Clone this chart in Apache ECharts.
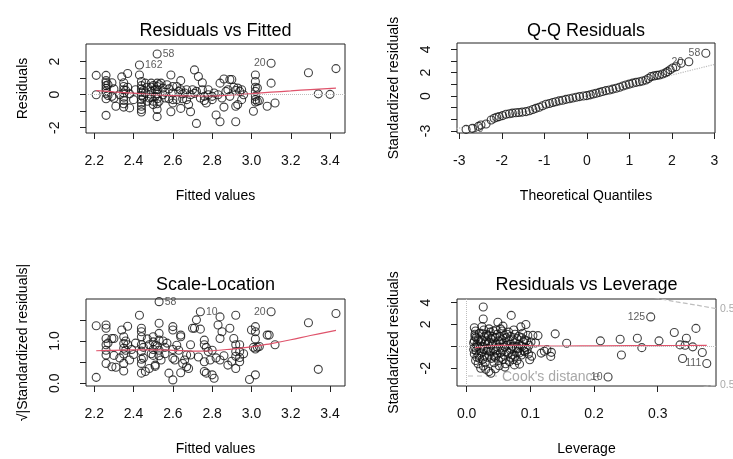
<!DOCTYPE html>
<html><head><meta charset="utf-8">
<script src="https://cdn.jsdelivr.net/npm/echarts@6/dist/echarts.min.js"></script>
<style>html,body{margin:0;padding:0;background:#fff}#c{width:733px;height:459px}</style>
</head><body><div id="c"></div>
<script>
// ---------- Panel 1: Residuals vs Fitted ----------
const residFitted = [
[2.21,1.17],[2.21,0.0],
[2.26,1.17],[2.26,0.85],[2.26,0.72],[2.26,0.55],[2.26,0.38],[2.26,0.22],[2.26,0.08],[2.26,-0.25],[2.26,-1.25],[2.27,0.6],[2.27,-0.05],
[2.29,0.72],[2.29,-0.1],[2.30,-0.22],[2.31,-0.7],[2.30,0.35],[2.33,0.0],
[2.34,1.08],[2.35,0.72],[2.35,0.5],[2.35,0.3],[2.35,0.1],[2.35,-0.15],[2.35,-0.35],[2.35,-0.55],[2.35,-0.75],[2.36,0.25],
[2.37,1.28],[2.37,0.45],[2.38,0.05],[2.38,-0.8],[2.40,-0.3],[2.41,0.3],
[2.43,1.19],[2.44,0.8],[2.44,0.55],[2.44,0.35],[2.44,0.15],[2.44,-0.05],[2.44,-0.3],[2.44,-0.5],[2.44,-0.7],[2.44,-0.9],[2.44,-1.05],
[2.45,0.25],[2.45,-0.15],[2.46,0.7],[2.46,0.1],[2.47,-0.4],[2.47,0.45],[2.48,-0.2],
[2.49,0.7],[2.49,0.45],[2.49,0.2],[2.49,-0.15],[2.50,-0.4],[2.50,-0.6],[2.50,0.55],[2.51,0.3],[2.51,-0.1],
[2.52,0.7],[2.52,0.5],[2.52,0.3],[2.52,0.05],[2.52,-0.25],[2.52,-0.55],[2.52,-0.9],[2.52,-1.33],[2.53,0.6],[2.53,-0.4],
[2.54,0.7],[2.55,0.4],[2.55,0.0],[2.56,0.15],[2.57,0.6],[2.56,-0.2],[2.58,0.35],[2.58,-0.25],
[2.59,1.19],[2.60,0.5],[2.60,0.1],[2.60,-0.3],[2.60,-0.5],[2.59,-1.03],
[2.62,-0.3],[2.63,0.2],[2.62,0.5],
[2.64,0.85],[2.64,0.3],[2.65,0.05],[2.65,-0.25],[2.64,-0.83],[2.66,0.1],
[2.67,0.3],[2.67,-0.3],[2.68,-0.6],[2.69,-1.03],[2.70,0.3],[2.69,0.0],
[2.71,1.5],[2.71,0.08],[2.73,1.1],[2.75,0.72],[2.72,-1.74],[2.72,0.2],[2.74,-0.2],
[2.75,0.3],[2.76,-0.1],[2.76,-0.35],[2.77,-0.5],[2.78,0.0],[2.78,0.3],
[2.80,-0.1],[2.81,0.1],[2.80,-0.3],[2.82,-1.23],[2.84,-1.64],[2.83,0.0],[2.84,0.7],[2.85,-0.2],
[2.86,0.95],[2.86,-0.75],[2.87,0.2],[2.88,0.3],
[2.89,0.92],[2.90,0.92],[2.89,-0.1],[2.91,0.45],[2.92,0.25],[2.92,-0.7],[2.92,-1.64],[2.93,0.4],[2.93,-0.6],[2.94,0.2],[2.95,0.3],[2.95,-0.3],[2.96,0.0],
[3.02,1.19],[3.02,0.8],[3.02,0.45],[3.02,0.2],[3.02,-0.1],[3.02,-0.3],[3.02,-0.45],[3.01,-1.0],[3.03,0.4],[3.03,-0.4],[3.04,-0.35],
[3.08,-0.7],[3.10,0.7],[3.12,-0.5],
[3.29,1.33],[3.34,0.05],[3.40,0.02],[3.43,1.58]
];
const smoothFitted = [[2.21,0.25],[2.30,0.17],[2.40,0.09],[2.50,0.0],[2.60,-0.06],[2.70,-0.08],[2.80,-0.08],[2.90,-0.02],[3.00,0.06],[3.10,0.15],[3.20,0.23],[3.30,0.31],[3.43,0.40]];
const idFitted = [["58",2.52,2.46,"right"],["162",2.43,1.80,"right"],["20",3.10,1.90,"left"]];
const fittedTicks = [2.2,2.4,2.6,2.8,3.0,3.2,3.4];
const residTicks = [-2,-1,0,1,2];
const residLabels = [-2,0,2];

// ---------- Panel 2: Q-Q Residuals ----------
const qqPoints = [
[-2.69,-2.77],[-2.55,-2.60],[-2.49,-2.49],[-2.37,-2.40],[-2.25,-2.05],[-2.18,-1.91],[-2.12,-1.82],[-2.06,-1.77],[-1.98,-1.68],[-1.90,-1.57],
[-1.82,-1.52],[-1.75,-1.47],[-1.67,-1.43],[-1.60,-1.41],[-1.52,-1.38],[-1.43,-1.34],[-1.35,-1.27],[-1.27,-1.16],[-1.20,-1.06],[-1.12,-0.96],
[-1.04,-0.83],[-0.96,-0.71],[-0.88,-0.64],[-0.80,-0.56],[-0.73,-0.49],[-0.65,-0.42],[-0.57,-0.36],[-0.49,-0.29],[-0.41,-0.23],[-0.33,-0.17],
[-0.25,-0.11],[-0.17,-0.05],[-0.08,0.0],[0.0,0.03],[0.08,0.10],[0.15,0.17],[0.22,0.23],[0.30,0.31],[0.37,0.38],[0.45,0.46],
[0.53,0.52],[0.61,0.59],[0.69,0.66],[0.77,0.75],[0.85,0.85],[0.92,0.94],[1.00,1.02],[1.08,1.10],[1.16,1.17],[1.24,1.22],
[1.31,1.28],[1.39,1.37],[1.45,1.50],[1.51,1.66],[1.58,1.72],[1.65,1.77],[1.71,1.80],[1.78,1.88],[1.85,1.98],[1.90,2.09],
[1.96,2.25],[2.02,2.40],[2.10,2.51],[2.22,2.80]
];
const qqLine = [[-3.06,-2.80],[3.02,2.72]];
const idQQ = [["58",2.80,3.66,"left"],["20",2.40,2.94,"left"],["10",-2.84,-2.86,"right"]];
const qqXTicks = [-3,-2,-1,0,1,2,3];
const qqYTicks = [-3,-2,-1,0,1,2,3,4];
const qqYLabels = [-3,0,2,4];

// ---------- Panel 3: Scale-Location ----------
const scaleLoc = [
[2.21,1.36],[2.21,0.14],
[2.26,1.38],[2.26,1.30],[2.26,1.06],[2.26,0.91],[2.26,0.78],[2.26,0.67],[2.26,0.47],[2.27,0.95],
[2.29,1.06],[2.29,0.39],[2.30,1.06],[2.31,0.38],[2.30,0.66],[2.33,0.60],
[2.34,1.26],[2.35,1.10],[2.35,0.94],[2.35,0.83],[2.35,0.69],[2.35,0.47],[2.35,0.29],[2.36,0.78],[2.36,1.00],
[2.37,1.35],[2.37,0.91],[2.38,0.55],[2.39,0.80],[2.40,0.68],[2.41,0.95],
[2.43,1.61],[2.44,1.30],[2.44,1.22],[2.44,1.10],[2.44,0.91],[2.44,0.76],[2.44,0.57],[2.44,0.47],[2.44,0.24],[2.46,0.28],[2.45,0.85],[2.45,0.60],
[2.47,1.05],[2.48,0.91],[2.48,0.35],[2.49,0.70],[2.50,1.10],[2.50,0.98],[2.50,0.66],[2.51,0.43],[2.51,0.40],[2.50,0.80],[2.51,0.90],
[2.53,1.42],[2.53,1.18],[2.53,1.02],[2.53,0.78],[2.53,0.65],[2.52,0.88],[2.54,0.55],
[2.55,1.00],[2.56,0.85],[2.56,0.70],[2.57,0.95],[2.58,0.24],[2.60,0.08],[2.60,1.34],[2.60,1.26],[2.60,0.80],[2.60,0.59],[2.61,0.55],[2.62,0.90],
[2.64,1.14],[2.64,1.10],[2.65,0.47],[2.64,0.25],[2.63,0.78],[2.66,0.55],
[2.67,0.39],[2.67,0.67],[2.69,0.91],[2.69,0.67],[2.70,1.30],[2.71,1.30],[2.68,0.35],
[2.72,1.50],[2.73,0.62],[2.74,1.28],[2.76,1.02],[2.76,0.91],[2.76,0.51],[2.76,0.28],[2.77,0.24],[2.77,0.85],[2.78,0.75],[2.80,0.20],[2.81,0.12],[2.79,0.55],[2.80,0.78],
[2.83,1.38],[2.84,1.57],[2.84,1.06],[2.84,0.55],[2.85,1.22],[2.82,0.60],[2.86,0.65],
[2.88,0.43],[2.89,1.30],[2.91,1.06],[2.92,1.61],[2.92,0.91],[2.92,0.75],[2.92,0.64],[2.92,0.35],[2.90,0.52],
[2.94,0.91],[2.94,0.75],[2.94,0.61],[2.94,0.51],[2.96,0.70],
[2.99,0.09],[3.00,1.26],[3.02,1.34],[3.02,1.22],[3.01,0.85],[3.02,0.81],[3.03,0.85],[3.04,0.87],[3.02,0.20],[3.02,1.05],
[3.08,1.14],[3.09,1.14],[3.12,0.91],
[3.29,1.43],[3.34,0.33],[3.43,1.65]
];
const smoothScale = [[2.21,0.77],[2.30,0.78],[2.40,0.79],[2.50,0.79],[2.60,0.78],[2.70,0.76],[2.80,0.77],[2.90,0.81],[3.00,0.86],[3.10,0.94],[3.20,1.03],[3.30,1.13],[3.43,1.25]];
const idScale = [["58",2.53,1.93,"right"],["10",2.74,1.69,"right"],["20",3.10,1.69,"left"]];
const scaleTicks = [0,0.5,1,1.5];
const scaleLabels = [0,1];

// ---------- Panel 4: Residuals vs Leverage ----------
const leverage = [
[0.012,1.7],[0.014,1.4],[0.013,1.1],[0.015,0.8],[0.012,0.5],[0.016,0.2],[0.013,-0.1],[0.015,-0.4],[0.012,-0.7],[0.016,-1.0],[0.014,-1.3],[0.018,-1.6],
[0.011,0.3],[0.011,-0.3],[0.013,0.9],[0.017,0.0],[0.018,0.6],[0.019,-0.8],[0.020,1.2],[0.021,-0.2],[0.022,0.4],[0.020,-1.1],[0.022,-2.0],
[0.026,3.6],[0.026,2.5],[0.024,1.8],[0.027,1.5],[0.023,1.2],[0.028,0.9],[0.024,0.6],[0.029,0.3],[0.025,0.0],[0.027,-0.3],[0.023,-0.6],[0.028,-0.9],[0.025,-1.2],[0.029,-1.5],[0.026,-1.8],
[0.031,0.5],[0.032,-0.4],[0.031,1.1],[0.032,-1.0],[0.033,0.2],[0.030,-2.1],
[0.035,1.6],[0.037,1.3],[0.034,1.0],[0.038,0.7],[0.036,0.4],[0.039,0.1],[0.034,-0.2],[0.037,-0.5],[0.035,-0.8],[0.039,-1.1],[0.035,-2.3],[0.038,-2.46],
[0.041,0.9],[0.042,-0.3],[0.041,0.3],[0.043,-0.9],[0.042,1.4],[0.043,-1.5],
[0.049,2.2],[0.046,1.5],[0.048,1.1],[0.045,0.8],[0.050,0.5],[0.047,0.2],[0.049,-0.1],[0.046,-0.4],[0.048,-0.7],[0.045,-1.0],[0.050,-1.3],[0.051,-1.78],[0.045,-2.05],
[0.052,0.3],[0.053,-0.6],[0.052,0.9],[0.053,1.6],[0.054,-1.0],
[0.057,1.85],[0.056,1.4],[0.059,1.0],[0.055,0.6],[0.058,0.3],[0.060,-0.05],[0.056,-0.4],[0.059,-0.8],[0.057,-1.2],[0.060,-1.9],
[0.062,0.1],[0.063,-0.5],[0.062,0.8],[0.063,1.1],[0.061,-1.6],
[0.070,2.83],[0.066,1.3],[0.069,0.9],[0.065,0.5],[0.068,0.2],[0.070,-0.2],[0.066,-0.6],[0.069,-1.0],[0.067,-1.4],
[0.072,0.0],[0.073,0.6],[0.072,-0.8],[0.074,1.5],[0.073,-1.2],[0.075,-1.7],
[0.076,1.1],[0.079,0.7],[0.075,0.3],[0.078,-0.1],[0.080,-0.5],[0.076,-0.9],[0.079,-1.3],
[0.082,0.2],[0.081,-0.2],[0.082,0.9],[0.083,-0.6],
[0.085,1.78],[0.088,1.2],[0.086,0.8],[0.089,0.4],[0.087,0.0],[0.090,-0.4],[0.086,-0.8],[0.083,-1.63],
[0.091,0.6],[0.092,-0.1],[0.091,-0.5],
[0.093,2.0],[0.096,1.0],[0.094,0.5],[0.098,0.1],[0.095,-0.3],[0.097,-0.7],[0.099,-1.23],
[0.101,0.4],[0.102,-0.9],[0.104,1.0],
[0.112,0.98],[0.117,-0.62],[0.126,-0.3],[0.132,-0.92],[0.133,-0.55],[0.139,1.14],[0.122,-0.45],[0.108,0.3],
[0.157,0.28],
[0.210,0.50],[0.241,0.65],[0.243,-0.8],[0.268,0.74],[0.275,-0.12],[0.302,0.5],[0.326,1.27],[0.335,0.13],[0.339,-1.11],[0.345,0.74],[0.343,0.1],[0.355,-0.05],[0.360,1.64],[0.370,-0.56]
];
const smoothLev = [[0.013,-0.12],[0.03,0.0],[0.05,0.08],[0.08,0.10],[0.11,0.05],[0.15,0.03],[0.21,0.05],[0.30,0.07],[0.377,0.08]];
const idLev = [["125",0.289,2.69,"left"],["111",0.377,-1.57,"left"],["10",0.222,-2.81,"left"]];
const cookUpper = [[0.295,4.45],[0.33,4.06],[0.36,3.78],[0.392,3.45]];
const cookLower = [[0.372,-3.70],[0.392,-3.55]];
const levXTicks = [0,0.1,0.2,0.3];
const levYTicks = [-2,0,2,4];
const levYLabels = [-2,2,4];

const F = '"Liberation Sans", Arial, Helvetica, sans-serif';
const chart = echarts.init(document.getElementById('c'), null, {renderer:'canvas'});

function fmt(dec){ return v => (dec ? Number(v).toFixed(dec) : String(v)); }
function xAx(gi,min,max,ticks,labels,name,dec){
  return {type:'value',gridIndex:gi,min:min,max:max,name:name,nameLocation:'middle',nameGap:56,
    nameTextStyle:{fontSize:14,color:'#000',fontFamily:F},
    axisLine:{show:false,onZero:false},splitLine:{show:false},
    axisTick:{show:true,length:6,inside:false,customValues:ticks,lineStyle:{color:'#222',width:1}},
    axisLabel:{customValues:labels,fontSize:14,color:'#111',fontFamily:F,margin:21,formatter:fmt(dec)}};
}
function yAx(gi,min,max,ticks,labels,name,dec){
  return {type:'value',gridIndex:gi,min:min,max:max,name:name,nameLocation:'middle',nameGap:56,
    nameTextStyle:{fontSize:14,color:'#000',fontFamily:F},
    axisLine:{show:false,onZero:false},splitLine:{show:false},
    axisTick:{show:true,length:6,inside:false,customValues:ticks,lineStyle:{color:'#222',width:1}},
    axisLabel:{customValues:labels,fontSize:14,color:'#111',fontFamily:F,margin:24,rotate:90,formatter:fmt(dec)}};
}
const pointStyle = {symbol:'circle',symbolSize:8,itemStyle:{color:'rgba(0,0,0,0)',borderColor:'#111',borderWidth:1.1}};
function pts(i,data,extra){ return Object.assign({type:'scatter',xAxisIndex:i,yAxisIndex:i,data:data,silent:true,z:3},pointStyle,extra||{}); }
function redLine(i,data){ return {type:'line',xAxisIndex:i,yAxisIndex:i,data:data,showSymbol:false,smooth:0.4,silent:true,z:4,lineStyle:{color:'#DF536B',width:1.2}}; }
function idSeries(i,ids){
  return {type:'scatter',xAxisIndex:i,yAxisIndex:i,silent:true,z:5,symbol:'circle',symbolSize:8,
    itemStyle:{color:'rgba(0,0,0,0)',borderColor:'#111',borderWidth:1.1},
    data:ids.map(d=>({value:[d[1],d[2]],label:{show:true,position:d[3],distance:1,formatter:d[0]}})),
    label:{show:true,fontSize:10.5,color:'#333',fontFamily:F}};
}
const dotted = {silent:true,symbol:'none',label:{show:false},lineStyle:{color:'#BEBEBE',type:'dotted',width:1}};

const grids = [
  {left:86,top:44,width:259,height:89},
  {left:457,top:43,width:258,height:90},
  {left:86,top:299,width:259,height:87},
  {left:457,top:299,width:259,height:87}
].map(g=>Object.assign(g,{show:true,borderColor:'#222',borderWidth:1,backgroundColor:'transparent'}));

const titles = [["Residuals vs Fitted",215.5,31.5],["Q-Q Residuals",586,31.5],["Scale-Location",215.5,285],["Residuals vs Leverage",586.5,285]];

chart.setOption({
  animation:false,
  backgroundColor:'#fff',
  textStyle:{fontFamily:F},
  grid:grids,
  xAxis:[
    xAx(0,2.158,3.476,fittedTicks,fittedTicks,'Fitted values',1),
    xAx(1,-3.054,3.016,qqXTicks,qqXTicks,'Theoretical Quantiles',0),
    xAx(2,2.158,3.476,fittedTicks,fittedTicks,'Fitted values',1),
    xAx(3,-0.0152,0.3915,levXTicks,levXTicks,'Leverage',1)
  ],
  yAxis:[
    yAx(0,-2.32,3.07,residTicks,residLabels,'Residuals',0),
    yAx(1,-3.17,4.54,qqYTicks,qqYLabels,'Standardized residuals',0),
    yAx(2,-0.064,1.993,scaleTicks,scaleLabels,'\u221A|Standardized residuals|',1),
    yAx(3,-3.63,4.33,levYTicks,levYLabels,'Standardized residuals',0)
  ],
  series:[
    pts(0,residFitted,{markLine:Object.assign({data:[{yAxis:0}]},dotted)}),
    redLine(0,smoothFitted),
    idSeries(0,idFitted),
    pts(1,qqPoints),
    {type:'line',xAxisIndex:1,yAxisIndex:1,data:qqLine,showSymbol:false,silent:true,z:2,lineStyle:{color:'#BEBEBE',type:'dotted',width:1.2}},
    idSeries(1,idQQ),
    pts(2,scaleLoc),
    redLine(2,smoothScale),
    idSeries(2,idScale),
    pts(3,leverage,{markLine:Object.assign({data:[{yAxis:0},{xAxis:0}]},dotted)}),
    redLine(3,smoothLev),
    idSeries(3,idLev),
    {type:'line',xAxisIndex:3,yAxisIndex:3,data:cookUpper,showSymbol:false,silent:true,clip:true,z:2,lineStyle:{color:'#BEBEBE',type:'dashed',width:1.2}},
    {type:'line',xAxisIndex:3,yAxisIndex:3,data:cookLower,showSymbol:false,silent:true,clip:true,z:2,lineStyle:{color:'#BEBEBE',type:'dashed',width:1.2}}
  ],
  graphic:[
    ...titles.map(t=>({type:'text',x:t[1],y:t[2],silent:true,style:{text:t[0],fontSize:18,fontFamily:F,fill:'#000',align:'center',verticalAlign:'middle'}})),
    {type:'line',silent:true,shape:{x1:468,y1:376,x2:497,y2:376},style:{stroke:'#BEBEBE',lineWidth:1.2,lineDash:[5,4]}},
    {type:'text',x:502,y:377,silent:true,style:{text:"Cook's distance",fontSize:14,fontFamily:F,fill:'#A8A8A8',align:'left',verticalAlign:'middle'}},
    {type:'text',x:720,y:309,silent:true,style:{text:"0.5",fontSize:10.5,fontFamily:F,fill:'#AAAAAA',align:'left',verticalAlign:'middle'}},
    {type:'text',x:720,y:385,silent:true,style:{text:"0.5",fontSize:10.5,fontFamily:F,fill:'#AAAAAA',align:'left',verticalAlign:'middle'}}
  ]
});
</script>
</body></html>
